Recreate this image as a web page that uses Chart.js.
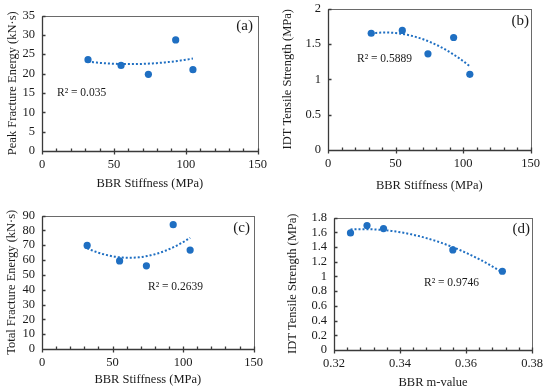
<!DOCTYPE html>
<html>
<head>
<meta charset="utf-8">
<script src="https://cdn.jsdelivr.net/npm/chart.js@4.4.1/dist/chart.umd.min.js"></script>
<style>
  html, body { margin: 0; padding: 0; background: #fff; }
  body { width: 550px; height: 392px; position: relative; overflow: hidden; }
  canvas { position: absolute; }
</style>
</head>
<body>
<script>
// mixes, in order of BBR stiffness
const stiffness = [32, 55, 74, 93, 105];
const peakEnergy = [23.6, 22.1, 19.8, 28.7, 21.0];
const tensileByStiffness = [1.65, 1.69, 1.36, 1.59, 1.07];
const totalEnergy = [69.8, 59.4, 56.1, 83.8, 66.7];
// same mixes, in order of m-value
const mValue = [0.325, 0.330, 0.335, 0.356, 0.371];
const tensileByM = [1.59, 1.69, 1.65, 1.36, 1.07];

const stiffnessTicks = [0, 50, 100, 150];
const mValueTicks = [0.32, 0.34, 0.36, 0.38];
const peakTicks = [0, 5, 10, 15, 20, 25, 30, 35];
const tensileTicks = [0, 0.5, 1, 1.5, 2];
const totalTicks = [0, 10, 20, 30, 40, 50, 60, 70, 80, 90];
const tensileMTicks = [0, 0.2, 0.4, 0.6, 0.8, 1, 1.2, 1.4, 1.6, 1.8];

const r2Labels = ['R² = 0.035', 'R² = 0.5889', 'R² = 0.2639', 'R² = 0.9746'];

const blue = '#1f6fc2';
const ink = '#1a1a1a';
const serif = "'Liberation Serif', 'Times New Roman', serif";
Chart.defaults.font.family = serif;
Chart.defaults.color = ink;

// area = plot box [left, top, right, bottom] on the page
const panels = [
  { tag: '(a)', x: stiffness, y: peakEnergy, xTicks: stiffnessTicks, yTicks: peakTicks,
    xTitle: 'BBR Stiffness (MPa)', yTitle: 'Peak Fracture Energy (kN·s)', r2: r2Labels[0],
    area: [42, 13, 259, 151], yTitleX: 12, xTitleY: 183, r2At: [57, 93], tagAt: [253, 26] },
  { tag: '(b)', x: stiffness, y: tensileByStiffness, xTicks: stiffnessTicks, yTicks: tensileTicks,
    xTitle: 'BBR Stiffness (MPa)', yTitle: 'IDT Tensile Strength (MPa)', r2: r2Labels[1],
    area: [328, 6, 532, 150], yTitleX: 287, xTitleY: 185, r2At: [357, 59], tagAt: [529, 21] },
  { tag: '(c)', x: stiffness, y: totalEnergy, xTicks: stiffnessTicks, yTicks: totalTicks,
    xTitle: 'BBR Stiffness (MPa)', yTitle: 'Total Fracture Energy (kN·s)', r2: r2Labels[2],
    area: [42, 213, 255, 349], yTitleX: 11, xTitleY: 379, r2At: [148, 287], tagAt: [250, 228] },
  { tag: '(d)', x: mValue, y: tensileByM, xTicks: mValueTicks, yTicks: tensileMTicks,
    xTitle: 'BBR m-value', yTitle: 'IDT Tensile Strength (MPa)', r2: r2Labels[3],
    area: [334, 215, 535, 350], yTitleX: 292, xTitleY: 382, r2At: [424, 283], tagAt: [530, 229] }
];

// 2nd order polynomial least squares (Excel style trendline)
function quadFit(xs, ys) {
  const n = xs.length;
  const mx = xs.reduce((s, v) => s + v, 0) / n;
  let s = [0, 0, 0, 0, 0], t = [0, 0, 0];
  xs.forEach((xv, i) => {
    const u = xv - mx;
    for (let k = 0; k < 5; k++) s[k] += Math.pow(u, k);
    for (let k = 0; k < 3; k++) t[k] += ys[i] * Math.pow(u, k);
  });
  const M = [[s[0], s[1], s[2], t[0]], [s[1], s[2], s[3], t[1]], [s[2], s[3], s[4], t[2]]];
  for (let c = 0; c < 3; c++) {
    for (let r = c + 1; r < 3; r++) {
      const f = M[r][c] / M[c][c];
      for (let k = c; k < 4; k++) M[r][k] -= f * M[c][k];
    }
  }
  const b = [0, 0, 0];
  for (let r = 2; r >= 0; r--) {
    let v = M[r][3];
    for (let k = r + 1; k < 3; k++) v -= M[r][k] * b[k];
    b[r] = v / M[r][r];
  }
  return x => b[0] + b[1] * (x - mx) + b[2] * (x - mx) * (x - mx);
}

function trendPoints(xs, ys) {
  const f = quadFit(xs, ys);
  const lo = Math.min(...xs), hi = Math.max(...xs);
  const pts = [];
  for (let i = 0; i <= 60; i++) {
    const xv = lo + (hi - lo) * i / 60;
    pts.push({ x: xv, y: f(xv) });
  }
  return pts;
}

const fmt = v => String(+Number(v).toFixed(3));

function framePlugin(p, off) {
  return {
    id: 'frame' + p.tag,
    beforeDatasetsDraw(chart) {
      const { ctx, chartArea: a, scales: { x, y } } = chart;
      const L = Math.round(a.left) + 0.5, R = Math.round(a.right) + 0.5;
      const T = Math.round(a.top) + 0.5, B = Math.round(a.bottom) + 0.5;
      ctx.save();
      ctx.strokeStyle = '#6a6a6a';
      ctx.lineWidth = 1;
      ctx.strokeRect(L, T, R - L, B - T);
      ctx.strokeStyle = '#3a3a3a';
      ctx.lineWidth = 1.3;
      ctx.beginPath();
      ctx.moveTo(L, T); ctx.lineTo(L, B); ctx.lineTo(R, B);
      // x ticks: major cross the axis, minor point inwards
      p.xTicks.forEach((v, i) => {
        const px = Math.round(x.getPixelForValue(v)) + 0.5;
        ctx.moveTo(px, B - 3); ctx.lineTo(px, B + 3);
        if (i < p.xTicks.length - 1) {
          const nx = p.xTicks[i + 1];
          for (let k = 1; k < 5; k++) {
            const mpx = Math.round(x.getPixelForValue(v + (nx - v) * k / 5)) + 0.5;
            ctx.moveTo(mpx, B); ctx.lineTo(mpx, B - 3);
          }
        }
      });
      p.yTicks.forEach(v => {
        const py = Math.round(y.getPixelForValue(v)) + 0.5;
        ctx.moveTo(L, py); ctx.lineTo(L + 3, py);
      });
      ctx.stroke();
      ctx.restore();
    },
    afterDraw(chart) {
      const ctx = chart.ctx;
      ctx.save();
      ctx.fillStyle = ink;
      ctx.textBaseline = 'middle';
      ctx.font = '11.5px ' + serif;
      ctx.textAlign = 'left';
      ctx.fillText(p.r2, p.r2At[0] - off.left, p.r2At[1] - off.top);
      ctx.font = '15px ' + serif;
      ctx.textAlign = 'right';
      ctx.fillText(p.tag, p.tagAt[0] - off.left, p.tagAt[1] - off.top);
      ctx.restore();
    }
  };
}

panels.forEach(p => {
  const [l, t, r, b] = p.area;
  const left = Math.round(p.yTitleX - 7.5);
  const top = t - 12;
  const right = r + 14;
  const bottom = Math.round(p.xTitleY + 7.5);
  const cv = document.createElement('canvas');
  cv.width = right - left;
  cv.height = bottom - top;
  cv.style.left = left + 'px';
  cv.style.top = top + 'px';
  cv.style.width = cv.width + 'px';
  cv.style.height = cv.height + 'px';
  document.body.appendChild(cv);

  const tickFont = { size: 12.5, family: serif };
  const titleFont = { size: 12.5, family: serif, lineHeight: 1.2 };

  new Chart(cv, {
    type: 'scatter',
    data: {
      datasets: [{
        data: p.x.map((v, i) => ({ x: v, y: p.y[i] })),
        backgroundColor: blue,
        borderColor: blue,
        borderWidth: 0,
        pointRadius: 3.6,
        pointHoverRadius: 3.6
      }, {
        type: 'line',
        data: trendPoints(p.x, p.y),
        borderColor: blue,
        borderWidth: 2,
        borderDash: [2, 2],
        pointRadius: 0,
        fill: false,
        tension: 0
      }]
    },
    options: {
      responsive: false,
      animation: false,
      devicePixelRatio: 1,
      layout: { padding: { top: 12, right: 14, left: 0, bottom: 0 } },
      plugins: { legend: { display: false }, tooltip: { enabled: false } },
      scales: {
        x: {
          type: 'linear',
          min: p.xTicks[0],
          max: p.xTicks[p.xTicks.length - 1],
          afterBuildTicks: s => { s.ticks = p.xTicks.map(v => ({ value: v })); },
          afterFit: s => { s.height = bottom - b; },
          grid: { display: false, drawTicks: false },
          border: { display: false },
          ticks: { padding: 6, font: tickFont, color: ink, maxRotation: 0, autoSkip: false, callback: fmt },
          title: { display: true, text: p.xTitle, font: titleFont, color: ink, padding: 0 }
        },
        y: {
          type: 'linear',
          min: p.yTicks[0],
          max: p.yTicks[p.yTicks.length - 1],
          afterBuildTicks: s => { s.ticks = p.yTicks.map(v => ({ value: v })); },
          afterFit: s => { s.width = l - left; },
          grid: { display: false, drawTicks: false },
          border: { display: false },
          ticks: { padding: 7, font: tickFont, color: ink, autoSkip: false, callback: fmt },
          title: { display: true, text: p.yTitle, font: titleFont, color: ink, padding: 0 }
        }
      }
    },
    plugins: [framePlugin(p, { left, top })]
  });
});
</script>
</body>
</html>
